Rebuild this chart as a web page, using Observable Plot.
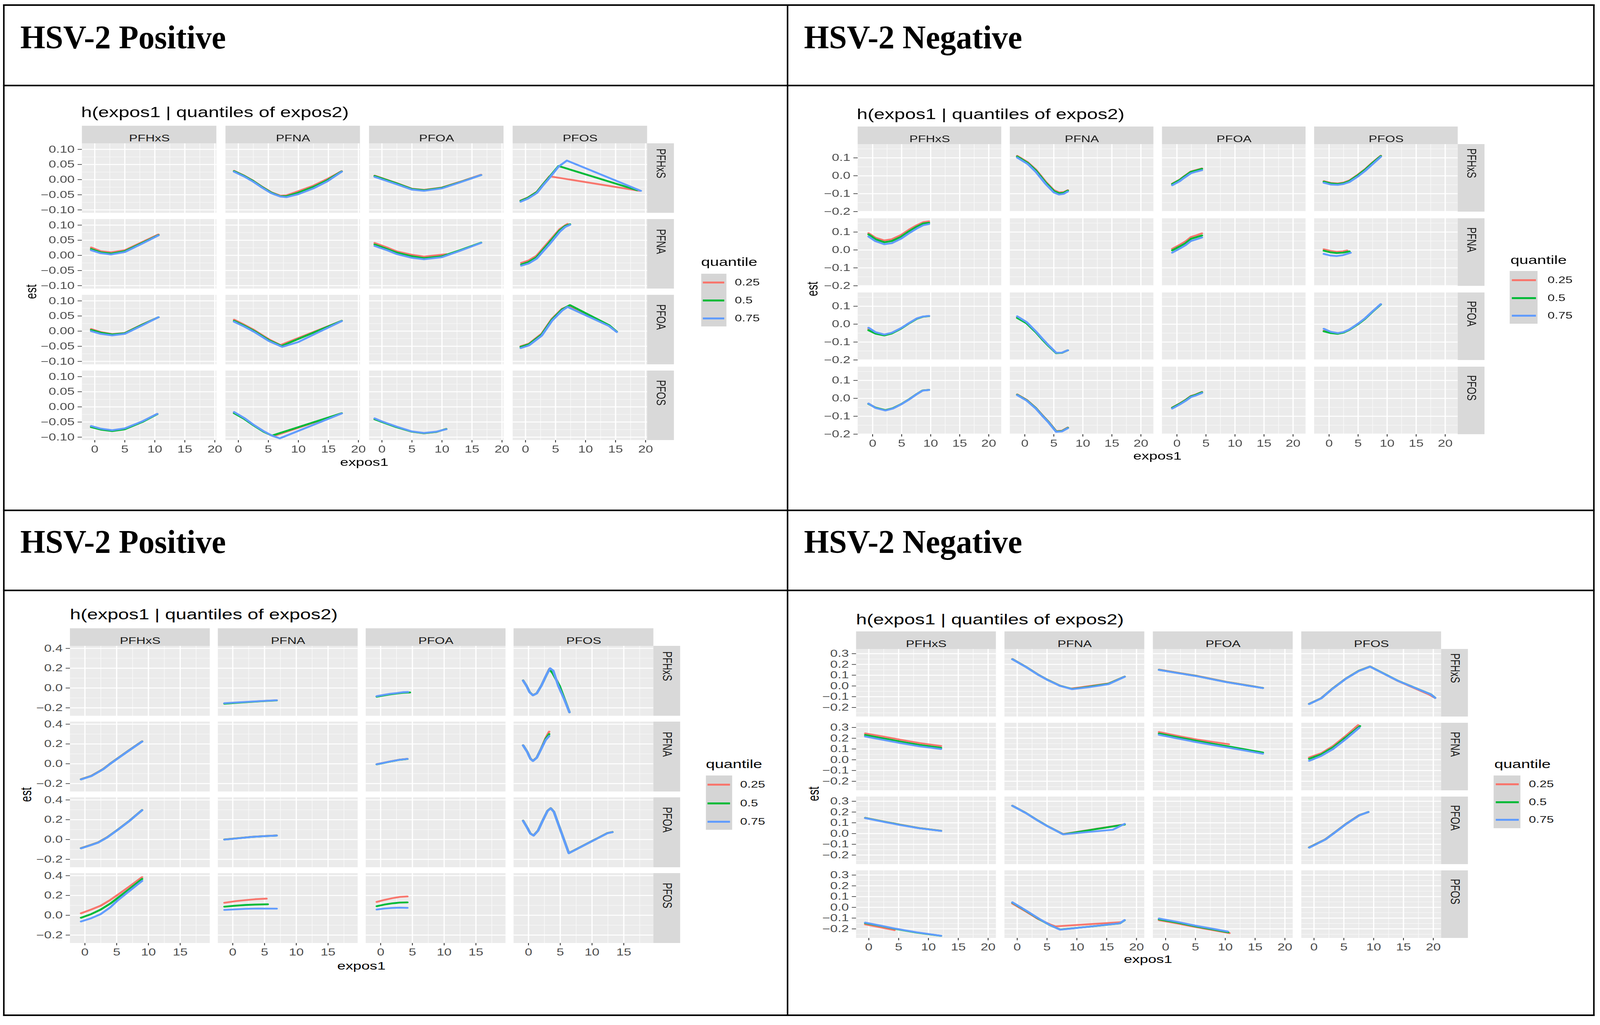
<!DOCTYPE html>
<html><head><meta charset="utf-8">
<script src="https://cdn.jsdelivr.net/npm/d3@7"></script>
<script src="https://cdn.jsdelivr.net/npm/@observablehq/plot@0.6"></script>
<style>
html,body{margin:0;padding:0;background:#fff;overflow:hidden;}
#page{position:absolute;left:0;top:0;width:4181px;height:2625px;overflow:hidden;background:#fff;font-family:"Liberation Sans",Arial,sans-serif;transform-origin:0 0;}
.ln{position:absolute;background:#000;}
.hdr{position:absolute;font-family:"Liberation Serif","Times New Roman",serif;font-weight:bold;font-size:84px;line-height:1;color:#000;white-space:nowrap;}
.chart{position:absolute;transform:scaleX(1.4);transform-origin:0 0;}
.chart > *{position:absolute;}
.txt{line-height:1;white-space:nowrap;}
</style>
</head><body><div id="page"></div>
<script>
// ---------------- data ----------------
const compounds = ["PFHxS", "PFNA", "PFOA", "PFOS"];
const quantiles = ["0.25", "0.5", "0.75"];
const quantileColors = ["#F8766D", "#00BA38", "#619CFF"];
const cellHeaders = ["HSV-2 Positive", "HSV-2 Negative", "HSV-2 Positive", "HSV-2 Negative"];
const chartTitle = "h(expos1 | quantiles of expos2)";
const xTitle = "expos1", yTitle = "est", legendTitle = "quantile";

const xTicksTo20 = [0, 5, 10, 15, 20];
const xTicksTo15 = [0, 5, 10, 15];
const xMinorTicks = [2.5, 7.5, 12.5, 17.5];
const yTicksPosTop = [-0.10, -0.05, 0, 0.05, 0.10];
const yMinorPosTop = [-0.075, -0.025, 0.025, 0.075];
const yTicksNegTop = [-0.2, -0.1, 0, 0.1];
const yMinorNegTop = [-0.15, -0.05, 0.05, 0.15];
const yTicksPosBottom = [-0.2, 0, 0.2, 0.4];
const yMinorPosBottom = [-0.1, 0.1, 0.3];
const yTicksNegBottom = [-0.2, -0.1, 0, 0.1, 0.2, 0.3];
const yMinorNegBottom = [-0.25, -0.15, -0.05, 0.05, 0.15, 0.25];

// [expos1 (column), expos2 (row), quantile, [x, est, x, est, ...]]
const hsvPosTop = [
  ["PFNA","PFHxS","0.25",[-0.7,0.029, 1,0.013, 2.5,-0.004, 4,-0.024, 5.5,-0.042, 7,-0.053, 8,-0.052, 10,-0.038, 12.5,-0.02, 14.8,0.002, 17.2,0.028]],
  ["PFNA","PFHxS","0.5",[-0.7,0.028, 1,0.012, 2.5,-0.005, 4,-0.025, 5.5,-0.043, 7,-0.055, 8,-0.055, 10,-0.043, 12.5,-0.024, 14.8,-0.002, 17.2,0.027]],
  ["PFNA","PFHxS","0.75",[-0.7,0.026, 1,0.01, 2.5,-0.007, 4,-0.027, 5.5,-0.045, 7,-0.056, 8,-0.058, 10,-0.048, 12.5,-0.029, 14.8,-0.006, 17.2,0.026]],
  ["PFOA","PFHxS","0.25",[-1.2,0.013, 0,0.005, 2.4,-0.011, 5,-0.03, 7,-0.034, 10,-0.026, 12.9,-0.008, 16.5,0.016]],
  ["PFOA","PFHxS","0.5",[-1.2,0.012, 0,0.004, 2.4,-0.012, 5,-0.031, 7,-0.035, 10,-0.027, 12.9,-0.009, 16.5,0.015]],
  ["PFOA","PFHxS","0.75",[-1.2,0.009, 0,0.001, 2.4,-0.015, 5,-0.033, 7,-0.037, 10,-0.029, 12.9,-0.01, 16.5,0.015]],
  ["PFOS","PFHxS","0.25",[-0.8,-0.069, 0.4,-0.059, 1.9,-0.04, 3,-0.013, 4,0.011, 19,-0.037]],
  ["PFOS","PFHxS","0.5",[-0.8,-0.07, 0.4,-0.06, 1.9,-0.041, 3,-0.014, 4,0.009, 5.5,0.045, 18.6,-0.035]],
  ["PFOS","PFHxS","0.75",[-0.8,-0.073, 0.4,-0.063, 1.9,-0.044, 3,-0.017, 4,0.006, 5.5,0.043, 6.9,0.063, 19.2,-0.037]],
  ["PFHxS","PFNA","0.25",[-0.6,0.026, 1,0.014, 2.7,0.01, 5,0.017, 7.9,0.044, 10.6,0.069]],
  ["PFHxS","PFNA","0.5",[-0.6,0.021, 1,0.01, 2.7,0.006, 5,0.014, 7.9,0.041, 10.6,0.067]],
  ["PFHxS","PFNA","0.75",[-0.6,0.017, 1,0.007, 2.7,0.003, 5,0.011, 7.9,0.039, 10.6,0.066]],
  ["PFOA","PFNA","0.25",[-1.2,0.041, 1,0.025, 2.5,0.013, 5,0.002, 7,-0.004, 10.7,0.004]],
  ["PFOA","PFNA","0.5",[-1.2,0.036, 1,0.02, 2.5,0.009, 5,-0.003, 7,-0.009, 10,-0.003, 13,0.017, 16.5,0.042]],
  ["PFOA","PFNA","0.75",[-1.2,0.031, 1,0.016, 2.5,0.004, 5,-0.008, 7,-0.013, 10,-0.006, 13,0.015, 16.5,0.041]],
  ["PFOS","PFNA","0.25",[-0.7,-0.025, 0.5,-0.017, 1.85,-0.001, 4,0.048, 5.7,0.087, 6.6,0.099, 7.0,0.104]],
  ["PFOS","PFNA","0.5",[-0.7,-0.03, 0.5,-0.022, 1.85,-0.006, 4,0.043, 5.7,0.083, 6.6,0.097, 7.4,0.103]],
  ["PFOS","PFNA","0.75",[-0.7,-0.034, 0.5,-0.027, 1.85,-0.011, 4,0.037, 5.7,0.078, 6.6,0.094, 7.4,0.101]],
  ["PFHxS","PFOA","0.25",[-0.6,0.007, 1,-0.003, 2.9,-0.01, 5,-0.006, 7.9,0.022, 10.6,0.046]],
  ["PFHxS","PFOA","0.5",[-0.6,0.004, 1,-0.005, 2.9,-0.011, 5,-0.007, 7.9,0.021, 10.6,0.046]],
  ["PFHxS","PFOA","0.75",[-0.6,0.0, 1,-0.009, 2.9,-0.014, 5,-0.009, 7.9,0.019, 10.6,0.046]],
  ["PFNA","PFOA","0.25",[-0.7,0.038, 1,0.021, 2.6,0.004, 5.1,-0.027, 7,-0.046, 17.2,0.034]],
  ["PFNA","PFOA","0.5",[-0.7,0.034, 1,0.018, 2.6,0.001, 5.1,-0.03, 7.2,-0.049, 17.2,0.034]],
  ["PFNA","PFOA","0.75",[-0.7,0.031, 1,0.015, 2.6,-0.002, 5.1,-0.033, 7.3,-0.052, 10,-0.036, 13.2,-0.005, 17.2,0.033]],
  ["PFOS","PFOA","0.25",[-0.8,-0.05, 0.6,-0.041, 2.7,-0.008, 4.4,0.041, 6.1,0.074, 7.2,0.083, 13.9,0.019, 15.2,-0.002]],
  ["PFOS","PFOA","0.5",[-0.8,-0.052, 0.6,-0.043, 2.7,-0.011, 4.4,0.038, 6.1,0.072, 7.4,0.086, 13.9,0.02, 15.2,-0.002]],
  ["PFOS","PFOA","0.75",[-0.8,-0.056, 0.6,-0.047, 2.7,-0.015, 4.4,0.034, 6.1,0.068, 7.0,0.08, 13.9,0.017, 15.2,-0.003]],
  ["PFHxS","PFOS","0.25",[-0.6,-0.065, 1,-0.074, 2.9,-0.079, 5,-0.073, 7.9,-0.049, 10.4,-0.023]],
  ["PFHxS","PFOS","0.5",[-0.6,-0.067, 1,-0.075, 2.9,-0.08, 5,-0.074, 7.9,-0.05, 10.4,-0.024]],
  ["PFHxS","PFOS","0.75",[-0.6,-0.063, 1,-0.072, 2.9,-0.077, 5,-0.071, 7.9,-0.048, 10.4,-0.023]],
  ["PFNA","PFOS","0.25",[-0.7,-0.019, 1,-0.039, 2.6,-0.061, 4.2,-0.081, 5.8,-0.097, 17.2,-0.021]],
  ["PFNA","PFOS","0.5",[-0.7,-0.021, 1,-0.04, 2.6,-0.062, 4.2,-0.082, 5.6,-0.095, 17.2,-0.021]],
  ["PFNA","PFOS","0.75",[-0.7,-0.017, 1,-0.037, 2.6,-0.06, 4.2,-0.08, 5.6,-0.095, 6.9,-0.104, 17.2,-0.022]],
  ["PFOA","PFOS","0.25",[-1.2,-0.04, 0,-0.049, 2.4,-0.066, 5,-0.082, 7,-0.087, 9,-0.083, 10.7,-0.073]],
  ["PFOA","PFOS","0.5",[-1.2,-0.041, 0,-0.05, 2.4,-0.067, 5,-0.082, 7,-0.087, 9,-0.083, 10.7,-0.073]],
  ["PFOA","PFOS","0.75",[-1.2,-0.038, 0,-0.048, 2.4,-0.065, 5,-0.081, 7,-0.086, 9,-0.082, 10.7,-0.074]]
];

const hsvNegTop = [
  ["PFNA","PFHxS","0.25",[-1.3,0.111, 0.5,0.076, 1.9,0.035, 3.6,-0.033, 5,-0.08, 5.9,-0.093, 6.7,-0.091, 7.4,-0.081]],
  ["PFNA","PFHxS","0.5",[-1.3,0.108, 0.5,0.072, 1.9,0.03, 3.6,-0.038, 5,-0.085, 5.9,-0.098, 6.7,-0.095, 7.4,-0.083]],
  ["PFNA","PFHxS","0.75",[-1.3,0.102, 0.5,0.066, 1.9,0.022, 3.6,-0.046, 5,-0.093, 5.9,-0.105, 6.7,-0.101, 7.4,-0.088]],
  ["PFOA","PFHxS","0.25",[-0.8,-0.044, 0.5,-0.021, 1.1,-0.006, 2.4,0.024, 3.2,0.031, 4.3,0.041]],
  ["PFOA","PFHxS","0.5",[-0.8,-0.046, 0.5,-0.023, 1.1,-0.008, 2.4,0.022, 3.2,0.029, 4.3,0.039]],
  ["PFOA","PFHxS","0.75",[-0.8,-0.053, 0.5,-0.03, 1.1,-0.015, 2.4,0.014, 3.2,0.022, 4.3,0.031]],
  ["PFOS","PFHxS","0.25",[-0.9,-0.03, 0.3,-0.04, 1.5,-0.043, 2.5,-0.038, 3.5,-0.026, 5,0.007, 6.2,0.037, 7.5,0.075, 8.9,0.112]],
  ["PFOS","PFHxS","0.5",[-0.9,-0.033, 0.3,-0.043, 1.5,-0.046, 2.5,-0.041, 3.5,-0.029, 5,0.004, 6.2,0.034, 7.5,0.072, 8.9,0.11]],
  ["PFOS","PFHxS","0.75",[-0.9,-0.039, 0.3,-0.049, 1.5,-0.051, 2.5,-0.046, 3.5,-0.035, 5,-0.003, 6.2,0.027, 7.5,0.065, 8.9,0.106]],
  ["PFHxS","PFNA","0.25",[-0.7,0.094, 0.5,0.068, 2,0.053, 3.3,0.06, 4.9,0.084, 6.3,0.114, 7.6,0.138, 8.7,0.155, 9.7,0.16]],
  ["PFHxS","PFNA","0.5",[-0.7,0.087, 0.5,0.06, 2,0.043, 3.3,0.05, 4.9,0.074, 6.3,0.105, 7.6,0.13, 8.7,0.148, 9.7,0.152]],
  ["PFHxS","PFNA","0.75",[-0.7,0.075, 0.5,0.049, 2,0.032, 3.3,0.038, 4.9,0.063, 6.3,0.094, 7.6,0.12, 8.7,0.138, 9.7,0.145]],
  ["PFOA","PFNA","0.25",[-0.8,0.006, 0.5,0.029, 1.5,0.048, 2.4,0.072, 3.2,0.08, 4.3,0.093]],
  ["PFOA","PFNA","0.5",[-0.8,-0.002, 0.5,0.02, 1.5,0.038, 2.4,0.062, 3.2,0.07, 4.3,0.081]],
  ["PFOA","PFNA","0.75",[-0.8,-0.015, 0.5,0.008, 1.5,0.027, 2.4,0.05, 3.2,0.058, 4.3,0.07]],
  ["PFOS","PFNA","0.25",[-0.9,0.004, 0.2,-0.005, 1.3,-0.01, 2.4,-0.008, 3.1,-0.003]],
  ["PFOS","PFNA","0.5",[-0.9,-0.004, 0.2,-0.013, 1.3,-0.017, 2.4,-0.015, 3.5,-0.008]],
  ["PFOS","PFNA","0.75",[-0.9,-0.022, 0.2,-0.031, 1.3,-0.034, 2.4,-0.029, 3.7,-0.016]],
  ["PFHxS","PFOA","0.25",[-0.7,-0.027, 0.5,-0.049, 2,-0.06, 3.3,-0.05, 4.9,-0.024, 6.3,0.006, 7.6,0.031, 8.7,0.042, 9.7,0.045]],
  ["PFHxS","PFOA","0.5",[-0.7,-0.034, 0.5,-0.053, 2,-0.063, 3.3,-0.052, 4.9,-0.025, 6.3,0.005, 7.6,0.03, 8.7,0.042, 9.7,0.045]],
  ["PFHxS","PFOA","0.75",[-0.7,-0.02, 0.5,-0.045, 2,-0.058, 3.3,-0.048, 4.9,-0.022, 6.3,0.007, 7.6,0.032, 8.7,0.043, 9.7,0.046]],
  ["PFNA","PFOA","0.25",[-1.3,0.038, 0.3,0.007, 1.9,-0.043, 3,-0.083, 4.1,-0.12, 5.4,-0.161, 6.4,-0.16, 7.4,-0.146]],
  ["PFNA","PFOA","0.5",[-1.3,0.035, 0.3,0.005, 1.9,-0.045, 3,-0.085, 4.1,-0.122, 5.4,-0.162, 6.4,-0.16, 7.4,-0.146]],
  ["PFNA","PFOA","0.75",[-1.3,0.044, 0.3,0.012, 1.9,-0.04, 3,-0.08, 4.1,-0.118, 5.4,-0.16, 6.4,-0.159, 7.4,-0.146]],
  ["PFOS","PFOA","0.25",[-0.9,-0.037, 0.3,-0.048, 1.5,-0.053, 2.5,-0.046, 3.5,-0.031, 5,0.001, 6.2,0.031, 7.5,0.071, 8.9,0.111]],
  ["PFOS","PFOA","0.5",[-0.9,-0.04, 0.3,-0.05, 1.5,-0.054, 2.5,-0.047, 3.5,-0.032, 5,0.0, 6.2,0.03, 7.5,0.07, 8.9,0.11]],
  ["PFOS","PFOA","0.75",[-0.9,-0.026, 0.3,-0.043, 1.5,-0.05, 2.5,-0.044, 3.5,-0.029, 5,0.003, 6.2,0.033, 7.5,0.072, 8.9,0.112]],
  ["PFHxS","PFOS","0.25",[-0.7,-0.03, 0.5,-0.052, 2.2,-0.066, 3.5,-0.055, 4.9,-0.033, 6.3,-0.005, 7.6,0.024, 8.6,0.044, 9.7,0.047]],
  ["PFHxS","PFOS","0.5",[-0.7,-0.031, 0.5,-0.052, 2.2,-0.066, 3.5,-0.055, 4.9,-0.033, 6.3,-0.005, 7.6,0.024, 8.6,0.044, 9.7,0.047]],
  ["PFHxS","PFOS","0.75",[-0.7,-0.029, 0.5,-0.054, 2.2,-0.068, 3.5,-0.057, 4.9,-0.034, 6.3,-0.006, 7.6,0.023, 8.6,0.043, 9.7,0.047]],
  ["PFNA","PFOS","0.25",[-1.3,0.022, 0.3,-0.008, 1.9,-0.053, 3,-0.093, 4.1,-0.131, 5.4,-0.183, 6.4,-0.181, 7.4,-0.163]],
  ["PFNA","PFOS","0.5",[-1.3,0.02, 0.3,-0.01, 1.9,-0.055, 3,-0.095, 4.1,-0.133, 5.4,-0.185, 6.4,-0.183, 7.4,-0.165]],
  ["PFNA","PFOS","0.75",[-1.3,0.018, 0.3,-0.012, 1.9,-0.057, 3,-0.097, 4.1,-0.135, 5.4,-0.187, 6.4,-0.185, 7.4,-0.167]],
  ["PFOA","PFOS","0.25",[-0.8,-0.051, 0.5,-0.028, 1.5,-0.008, 2.4,0.013, 3.1,0.02, 4.3,0.036]],
  ["PFOA","PFOS","0.5",[-0.8,-0.053, 0.5,-0.03, 1.5,-0.01, 2.4,0.011, 3.1,0.018, 4.3,0.034]],
  ["PFOA","PFOS","0.75",[-0.8,-0.057, 0.5,-0.034, 1.5,-0.014, 2.4,0.007, 3.1,0.014, 4.3,0.03]]
];

const hsvPosBottom = [
  ["PFNA","PFHxS","0.25",[-1.3,-0.157, 1,-0.146, 2.6,-0.14, 4.5,-0.132, 6.9,-0.124]],
  ["PFNA","PFHxS","0.5",[-1.3,-0.159, 1,-0.148, 2.6,-0.141, 4.5,-0.133, 6.9,-0.125]],
  ["PFNA","PFHxS","0.75",[-1.3,-0.153, 1,-0.144, 2.6,-0.138, 4.5,-0.131, 6.9,-0.123]],
  ["PFOA","PFHxS","0.25",[-0.6,-0.085, 0.5,-0.072, 1.5,-0.061, 2.6,-0.053, 3.5,-0.046, 4.4,-0.043]],
  ["PFOA","PFHxS","0.5",[-0.6,-0.088, 0.5,-0.075, 1.5,-0.064, 2.6,-0.055, 3.5,-0.048, 4.6,-0.045]],
  ["PFOA","PFHxS","0.75",[-0.6,-0.082, 0.5,-0.069, 1.5,-0.058, 2.6,-0.05, 3.5,-0.042, 4.3,-0.04]],
  ["PFOS","PFHxS","0.25",[-0.85,0.077, -0.3,0.022, 0.2,-0.043, 0.7,-0.072, 1.3,-0.053, 2,0.022, 2.8,0.13, 3.3,0.195, 3.8,0.16, 4.8,0.03, 5.6,-0.1, 6.45,-0.245]],
  ["PFOS","PFHxS","0.5",[-0.85,0.076, -0.3,0.021, 0.2,-0.044, 0.7,-0.073, 1.3,-0.054, 2,0.021, 2.8,0.128, 3.3,0.19, 3.8,0.15, 4.9,0.02, 5.6,-0.1, 6.45,-0.245]],
  ["PFOS","PFHxS","0.75",[-0.85,0.075, -0.3,0.02, 0.2,-0.045, 0.7,-0.074, 1.3,-0.055, 2,0.02, 2.8,0.13, 3.4,0.2, 3.9,0.175, 4.7,0.02, 5.6,-0.11, 6.45,-0.245]],
  ["PFHxS","PFNA","0.25",[-0.6,-0.155, 1,-0.122, 2.9,-0.052, 4,0.003, 5.2,0.058, 7,0.139, 9,0.227]],
  ["PFHxS","PFNA","0.5",[-0.6,-0.157, 1,-0.124, 2.9,-0.054, 4,0.001, 5.2,0.056, 7,0.137, 9,0.225]],
  ["PFHxS","PFNA","0.75",[-0.6,-0.158, 1,-0.125, 2.9,-0.055, 4,0.0, 5.2,0.055, 7,0.136, 9,0.224]],
  ["PFOA","PFNA","0.25",[-0.6,-0.004, 0.6,0.012, 1.8,0.028, 3,0.041, 4.2,0.05]],
  ["PFOA","PFNA","0.5",[-0.6,-0.006, 0.6,0.01, 1.8,0.026, 3,0.04, 4.2,0.048]],
  ["PFOA","PFNA","0.75",[-0.6,-0.005, 0.6,0.011, 1.8,0.027, 3,0.04, 4.2,0.049]],
  ["PFOS","PFNA","0.25",[-0.85,0.187, -0.2,0.122, 0.3,0.052, 0.7,0.03, 1.3,0.062, 2,0.155, 2.7,0.26, 3.25,0.325]],
  ["PFOS","PFNA","0.5",[-0.85,0.186, -0.2,0.121, 0.3,0.051, 0.7,0.029, 1.3,0.061, 2,0.152, 2.7,0.25, 3.25,0.3]],
  ["PFOS","PFNA","0.75",[-0.85,0.185, -0.2,0.12, 0.3,0.05, 0.7,0.028, 1.3,0.06, 2,0.15, 2.7,0.24, 3.25,0.28]],
  ["PFHxS","PFOA","0.25",[-0.6,-0.086, 1,-0.053, 2.1,-0.028, 3.5,0.023, 5.2,0.101, 7,0.189, 9,0.298]],
  ["PFHxS","PFOA","0.5",[-0.6,-0.088, 1,-0.055, 2.1,-0.03, 3.5,0.021, 5.2,0.1, 7,0.188, 9,0.297]],
  ["PFHxS","PFOA","0.75",[-0.6,-0.089, 1,-0.056, 2.1,-0.031, 3.5,0.02, 5.2,0.099, 7,0.187, 9,0.296]],
  ["PFNA","PFOA","0.25",[-1.3,0.001, 1,0.015, 3,0.027, 5,0.035, 6.9,0.041]],
  ["PFNA","PFOA","0.5",[-1.3,0.0, 1,0.014, 3,0.026, 5,0.034, 6.9,0.04]],
  ["PFNA","PFOA","0.75",[-1.3,-0.001, 1,0.013, 3,0.026, 5,0.034, 6.9,0.04]],
  ["PFOS","PFOA","0.25",[-0.85,0.191, -0.2,0.121, 0.3,0.061, 0.8,0.041, 1.5,0.091, 2.3,0.201, 3,0.291, 3.5,0.317, 4,0.281, 6.35,-0.137, 12.4,0.065, 13.2,0.076]],
  ["PFOS","PFOA","0.5",[-0.85,0.19, -0.2,0.12, 0.3,0.06, 0.8,0.04, 1.5,0.09, 2.3,0.2, 3,0.29, 3.5,0.316, 4,0.28, 6.35,-0.138, 12.4,0.064, 13.2,0.075]],
  ["PFOS","PFOA","0.75",[-0.85,0.189, -0.2,0.119, 0.3,0.059, 0.8,0.039, 1.5,0.089, 2.3,0.199, 3,0.289, 3.5,0.315, 4,0.279, 6.35,-0.139, 12.4,0.063, 13.2,0.074]],
  ["PFHxS","PFOS","0.25",[-0.6,0.02, 1,0.058, 2.5,0.097, 4,0.155, 5.2,0.208, 7,0.29, 9,0.385]],
  ["PFHxS","PFOS","0.5",[-0.6,-0.025, 1,0.012, 2.5,0.058, 4,0.118, 5.2,0.177, 7,0.265, 9,0.367]],
  ["PFHxS","PFOS","0.75",[-0.6,-0.063, 1,-0.03, 2.5,0.012, 4,0.08, 5.2,0.152, 7,0.245, 9,0.347]],
  ["PFNA","PFOS","0.25",[-1.3,0.126, 0.5,0.143, 2,0.153, 3.5,0.162, 5.3,0.168]],
  ["PFNA","PFOS","0.5",[-1.3,0.087, 0.5,0.097, 2,0.104, 3.5,0.108, 5.5,0.111]],
  ["PFNA","PFOS","0.75",[-1.3,0.054, 0.5,0.06, 2,0.065, 4,0.068, 6.9,0.067]],
  ["PFOA","PFOS","0.25",[-0.6,0.135, 0.6,0.155, 1.8,0.172, 3,0.185, 4.2,0.19]],
  ["PFOA","PFOS","0.5",[-0.6,0.092, 0.6,0.108, 1.8,0.12, 3,0.128, 4.2,0.13]],
  ["PFOA","PFOS","0.75",[-0.6,0.058, 0.6,0.068, 1.8,0.074, 3,0.077, 4.2,0.075]]
];

const hsvNegBottom = [
  ["PFNA","PFHxS","0.25",[-0.8,0.25, 1.5,0.177, 3.5,0.106, 5.1,0.057, 7.2,0.002, 9,-0.025, 12,-0.002, 15.3,0.023, 18,0.087]],
  ["PFNA","PFHxS","0.5",[-0.8,0.249, 1.5,0.176, 3.5,0.105, 5.1,0.056, 7.2,0.001, 9.2,-0.028, 12,-0.008, 15.3,0.02, 18,0.086]],
  ["PFNA","PFHxS","0.75",[-0.8,0.248, 1.5,0.175, 3.5,0.104, 5.1,0.055, 7.2,0.0, 9.2,-0.03, 12,-0.012, 15.3,0.016, 18,0.085]],
  ["PFOA","PFHxS","0.25",[-1.1,0.152, 2,0.123, 5.2,0.094, 10.2,0.038, 13,0.013, 16.3,-0.018]],
  ["PFOA","PFHxS","0.5",[-1.1,0.15, 2,0.121, 5.2,0.092, 10.2,0.036, 13,0.011, 16.3,-0.019]],
  ["PFOA","PFHxS","0.75",[-1.1,0.149, 2,0.12, 5.2,0.091, 10.2,0.035, 13,0.01, 16.3,-0.02]],
  ["PFOS","PFHxS","0.25",[-0.8,-0.166, 1.2,-0.114, 3,-0.029, 5.4,0.071, 7.5,0.141, 9.4,0.181, 14,0.048, 19.3,-0.08, 20.3,-0.112]],
  ["PFOS","PFHxS","0.5",[-0.8,-0.167, 1.2,-0.115, 3,-0.03, 5.4,0.07, 7.5,0.14, 9.4,0.18, 14,0.05, 19.6,-0.078, 20.3,-0.11]],
  ["PFOS","PFHxS","0.75",[-0.8,-0.168, 1.2,-0.116, 3,-0.031, 5.4,0.069, 7.5,0.139, 9.4,0.179, 14,0.049, 19.6,-0.079, 20.3,-0.111]],
  ["PFHxS","PFNA","0.25",[-0.6,0.245, 2.5,0.215, 5.2,0.187, 8.5,0.155, 12.1,0.128]],
  ["PFHxS","PFNA","0.5",[-0.6,0.23, 2.5,0.198, 5.2,0.17, 8.5,0.138, 12.1,0.111]],
  ["PFHxS","PFNA","0.75",[-0.6,0.216, 2.5,0.184, 5.2,0.156, 8.5,0.125, 12.1,0.1]],
  ["PFOA","PFNA","0.25",[-1.1,0.258, 2,0.222, 5,0.19, 8,0.165, 10.6,0.144]],
  ["PFOA","PFNA","0.5",[-1.1,0.244, 2,0.21, 5,0.178, 8,0.148, 11,0.12, 14,0.09, 16.3,0.067]],
  ["PFOA","PFNA","0.75",[-1.1,0.232, 2,0.198, 5,0.165, 8,0.136, 11,0.108, 14,0.079, 16.3,0.056]],
  ["PFOS","PFNA","0.25",[-0.8,0.021, 1.2,0.06, 3.2,0.128, 5.4,0.225, 7.4,0.322]],
  ["PFOS","PFNA","0.5",[-0.8,0.009, 1.2,0.05, 3.2,0.115, 5.4,0.21, 7.7,0.313]],
  ["PFOS","PFNA","0.75",[-0.8,-0.01, 1.2,0.035, 3.2,0.1, 5.4,0.195, 7.6,0.298]],
  ["PFHxS","PFOA","0.25",[-0.6,0.146, 2.5,0.112, 5.2,0.083, 8.5,0.051, 12.1,0.026]],
  ["PFHxS","PFOA","0.5",[-0.6,0.145, 2.5,0.111, 5.2,0.082, 8.5,0.05, 12.1,0.025]],
  ["PFHxS","PFOA","0.75",[-0.6,0.143, 2.5,0.109, 5.2,0.08, 8.5,0.049, 12.1,0.024]],
  ["PFNA","PFOA","0.25",[-0.8,0.259, 1.5,0.19, 3.5,0.12, 5.1,0.068, 7.7,-0.005, 18,0.085]],
  ["PFNA","PFOA","0.5",[-0.8,0.258, 1.5,0.19, 3.5,0.12, 5.1,0.068, 7.7,-0.007, 18,0.083]],
  ["PFNA","PFOA","0.75",[-0.8,0.258, 1.5,0.189, 3.5,0.119, 5.1,0.067, 7.7,-0.008, 11,0.01, 16,0.035, 18,0.09]],
  ["PFOS","PFOA","0.25",[-0.8,-0.128, 1.9,-0.053, 3.5,0.012, 5.4,0.092, 7.6,0.172, 9.1,0.2]],
  ["PFOS","PFOA","0.5",[-0.8,-0.13, 1.9,-0.055, 3.5,0.01, 5.4,0.09, 7.6,0.17, 9.1,0.2]],
  ["PFOS","PFOA","0.75",[-0.8,-0.131, 1.9,-0.056, 3.5,0.009, 5.4,0.089, 7.6,0.169, 9.1,0.2]],
  ["PFHxS","PFOS","0.25",[-0.6,-0.158, 2,-0.186, 4.3,-0.212]],
  ["PFHxS","PFOS","0.5",[-0.6,-0.146, 2,-0.173, 4.3,-0.199, 8,-0.234, 12.1,-0.265]],
  ["PFHxS","PFOS","0.75",[-0.6,-0.142, 2,-0.17, 4.3,-0.196, 8,-0.232, 12.1,-0.264]],
  ["PFNA","PFOS","0.25",[-0.8,0.035, 1.5,-0.04, 3.5,-0.108, 5.5,-0.158, 6.4,-0.177, 17.5,-0.137]],
  ["PFNA","PFOS","0.5",[-0.8,0.044, 1.5,-0.033, 3.5,-0.103, 5.5,-0.166, 7.2,-0.206, 12,-0.18, 17.2,-0.149, 18,-0.12]],
  ["PFNA","PFOS","0.75",[-0.8,0.047, 1.5,-0.03, 3.5,-0.1, 5.5,-0.165, 7.2,-0.208, 12,-0.18, 17.2,-0.148, 18,-0.118]],
  ["PFOA","PFOS","0.25",[-1.1,-0.12, 2,-0.15, 5,-0.183, 8,-0.213, 10.7,-0.24]],
  ["PFOA","PFOS","0.5",[-1.1,-0.112, 2,-0.142, 5,-0.176, 8,-0.206, 10.5,-0.232]],
  ["PFOA","PFOS","0.75",[-1.1,-0.104, 2,-0.135, 5,-0.17, 8,-0.2, 10.4,-0.224]]
];

// ---------------- layout (design coordinates: 4181 x 2625) ----------------
const DESIGN_W = 4181, DESIGN_H = 2625;
const K = 1.4;          // horizontal stretch of the ggplot images
const STRIP_H = 45, STRIP_W = 50;
const page = document.getElementById("page");
const vw = window.innerWidth || DESIGN_W, vh = window.innerHeight || DESIGN_H;
page.style.transform = `scale(${vw / DESIGN_W}, ${vh / DESIGN_H})`;

function place(parent, cls, css, text) {
  const e = document.createElement("div");
  if (cls) e.className = cls;
  Object.assign(e.style, css);
  if (text != null) e.textContent = text;
  parent.appendChild(e);
  return e;
}

// table frame
[
  {left:"8px", top:"11px", width:"4159px", height:"4px"},
  {left:"8px", top:"217px", width:"4159px", height:"4px"},
  {left:"8px", top:"1305px", width:"4159px", height:"4px"},
  {left:"8px", top:"1510px", width:"4159px", height:"4px"},
  {left:"8px", top:"2598px", width:"4159px", height:"4px"},
  {left:"8px", top:"11px", width:"4px", height:"2591px"},
  {left:"2056px", top:"11px", width:"4px", height:"2591px"},
  {left:"4163px", top:"11px", width:"4px", height:"2591px"}
].forEach(s => place(page, "ln", s));

const headerPos = [[53, 54], [2101, 54], [53, 1346], [2101, 1346]];
cellHeaders.forEach((h, i) => place(page, "hdr", {left: headerPos[i][0] + "px", top: headerPos[i][1] + "px"}, h));

const specs = [
  {series: hsvPosTop, xDomain: [-2.1, 20.3], yDomain: [-0.1103, 0.1194], xTicks: xTicksTo20, yTicks: yTicksPosTop, yMinor: yMinorPosTop, yFormat: ".2f",
   left: 60, top: 250, svgTop: 60, mL: 108.57, frameW: 1057.14, mR: 59.29, mT: 57, frameH: 760, mB: 84, fxPad: 0.0638, fyPad: 0.0825,
   title: [108.6, 38], est: [16.4, 497], expos: [637, 935],
   legend: {tx: 1265.7, ty: 423, bx: 1265.7, by: 451, bw: 47, bh: 135, ys: [473, 519, 565], lx: 1328.6}},
  {series: hsvNegTop, xDomain: [-2.53, 22.2], yDomain: [-0.2015, 0.176], xTicks: xTicksTo20, yTicks: yTicksNegTop, yMinor: yMinorNegTop, yFormat: ".1f",
   left: 2090, top: 250, svgTop: 60, mL: 105.71, frameW: 1123.57, mR: 60, mT: 57, frameH: 747, mB: 81, fxPad: 0.0576, fyPad: 0.089,
   title: [106.4, 42.5], est: [24.3, 490], expos: [667.5, 919],
   legend: {tx: 1326.4, ty: 418, bx: 1325, by: 444, bw: 52, bh: 135, ys: [467, 513, 558], lx: 1395.7}},
  {series: hsvPosBottom, xDomain: [-2.31, 19.7], yDomain: [-0.282, 0.424], xTicks: xTicksTo15, yTicks: yTicksPosBottom, yMinor: yMinorPosBottom, yFormat: ".1f",
   left: 40, top: 1530, svgTop: 65, mL: 101.43, frameW: 1089.29, mR: 59.29, mT: 57, frameH: 765, mB: 83, fxPad: 0.0543, fyPad: 0.0769,
   title: [102, 44], est: [21.4, 505], expos: [646, 945],
   legend: {tx: 1289, ty: 429, bx: 1288.6, by: 456, bw: 49.3, bh: 139, ys: [479, 527, 574], lx: 1352.9}},
  {series: hsvNegBottom, xDomain: [-2.09, 21.35], yDomain: [-0.286, 0.342], xTicks: xTicksTo20, yTicks: yTicksNegBottom, yMinor: yMinorNegBottom, yFormat: ".1f",
   left: 2090, top: 1530, svgTop: 75, mL: 105, frameW: 1092.14, mR: 60, mT: 57, frameH: 740, mB: 83, fxPad: 0.0593, fyPad: 0.0847,
   title: [105, 57], est: [25.7, 503], expos: [650, 927.5],
   legend: {tx: 1296.4, ty: 429, bx: 1295, by: 456, bw: 50, bh: 135, ys: [478, 524, 569], lx: 1360.7}}
];

function drawChart(s) {
  const boxW = (Math.min(DESIGN_W, s.left + 1460 * K) - s.left) / K;
  const box = place(page, "chart", {left: s.left + "px", top: s.top + "px", width: boxW + "px", height: "1000px"});
  const rows = [];
  for (const q of quantiles)
    for (const [col, row, qq, pts] of s.series)
      if (qq === q) for (let i = 0; i < pts.length; i += 2) rows.push({col, row, q, x: pts[i], y: pts[i + 1]});
  const [x0, x1] = s.xDomain, [y0, y1] = s.yDomain;
  const cells = d3.cross(compounds, compounds, (col, row) => ({col, row}));
  const topCells = compounds.map(col => ({col, row: compounds[0]}));
  const sideCells = compounds.map(row => ({col: compounds[compounds.length - 1], row}));
  const xMinor = xMinorTicks.filter(v => v > x0 && v < x1);
  const chart = Plot.plot({
    width: s.mL + s.frameW + s.mR,
    height: s.mT + s.frameH + s.mB,
    marginLeft: s.mL, marginRight: s.mR, marginTop: s.mT, marginBottom: s.mB,
    style: {fontFamily: "'Liberation Sans', Arial, sans-serif", background: "transparent", overflow: "visible"},
    x: {domain: s.xDomain},
    y: {domain: s.yDomain},
    fx: {domain: compounds, paddingInner: s.fxPad, paddingOuter: 0, axis: null},
    fy: {domain: compounds, paddingInner: s.fyPad, paddingOuter: 0, axis: null},
    color: {domain: quantiles, range: quantileColors},
    marks: [
      Plot.rect(cells, {fx: "col", fy: "row", x1: () => x0, x2: () => x1, y1: () => y0, y2: () => y1, fill: "#ebebeb"}),
      Plot.gridX(xMinor, {stroke: "#f8f8f8", strokeOpacity: 1, strokeWidth: 1.2}),
      Plot.gridY(s.yMinor, {stroke: "#f8f8f8", strokeOpacity: 1, strokeWidth: 1.3}),
      Plot.gridX(s.xTicks, {stroke: "#ffffff", strokeOpacity: 1, strokeWidth: 2.3}),
      Plot.gridY(s.yTicks, {stroke: "#ffffff", strokeOpacity: 1, strokeWidth: 2.5}),
      Plot.rect(topCells, {fx: "col", fy: "row", x1: () => x0, x2: () => x1, y1: () => y1, y2: () => y1, insetTop: -STRIP_H, fill: "#d9d9d9"}),
      Plot.text(topCells, {fx: "col", fy: "row", text: "col", frameAnchor: "top", dy: -STRIP_H / 2, fontSize: 24, fill: "#1a1a1a"}),
      Plot.rect(sideCells, {fx: "col", fy: "row", x1: () => x1, x2: () => x1, y1: () => y0, y2: () => y1, insetRight: -STRIP_W, fill: "#d9d9d9"}),
      Plot.text(sideCells, {fx: "col", fy: "row", text: "row", frameAnchor: "right", dx: STRIP_W / 2, rotate: 90, fontSize: 24, fill: "#1a1a1a"}),
      Plot.axisX({ticks: s.xTicks, facetAnchor: "bottom", tickSize: 6, tickPadding: 8, fontSize: 25, stroke: "#333333", strokeWidth: 1.6, fill: "#4d4d4d", label: null}),
      Plot.axisY({ticks: s.yTicks, facetAnchor: "left", tickSize: 8, tickPadding: 6, fontSize: 25, tickFormat: d3.format(s.yFormat), stroke: "#333333", strokeWidth: 1.6, fill: "#4d4d4d", label: null}),
      Plot.line(rows, {fx: "col", fy: "row", x: "x", y: "y", z: "q", stroke: "q", strokeWidth: 4.6, strokeLinejoin: "round"})
    ]
  });
  chart.style.position = "absolute";
  chart.style.left = "0px";
  chart.style.top = s.svgTop + "px";
  chart.style.maxWidth = "none";
  box.appendChild(chart);

  place(box, "txt", {left: s.title[0] + "px", top: (s.title[1] - 18) + "px", fontSize: "36px", color: "#000"}, chartTitle);
  place(box, "txt", {left: s.est[0] + "px", top: s.est[1] + "px", fontSize: "28px", color: "#000", transform: "translate(-50%,-50%) rotate(-90deg)"}, yTitle);
  place(box, "txt", {left: s.expos[0] + "px", top: s.expos[1] + "px", fontSize: "28px", color: "#000", transform: "translate(-50%,-55%)"}, xTitle);

  const color = chart.scale("color");
  const lg = s.legend;
  place(box, "txt", {left: lg.tx + "px", top: (lg.ty - 17) + "px", fontSize: "30px", color: "#000"}, legendTitle);
  place(box, null, {left: lg.bx + "px", top: lg.by + "px", width: lg.bw + "px", height: lg.bh + "px", background: "#d5d5d5"});
  quantiles.forEach((q, i) => {
    place(box, null, {left: (lg.bx + 3.5) + "px", top: (lg.ys[i] - 2.5) + "px", width: (lg.bw - 7) + "px", height: "5px", background: color.apply(q)});
    place(box, "txt", {left: lg.lx + "px", top: (lg.ys[i] - 12) + "px", fontSize: "24px", color: "#1a1a1a"}, q);
  });
}
specs.forEach(drawChart);
</script>
</body></html>
